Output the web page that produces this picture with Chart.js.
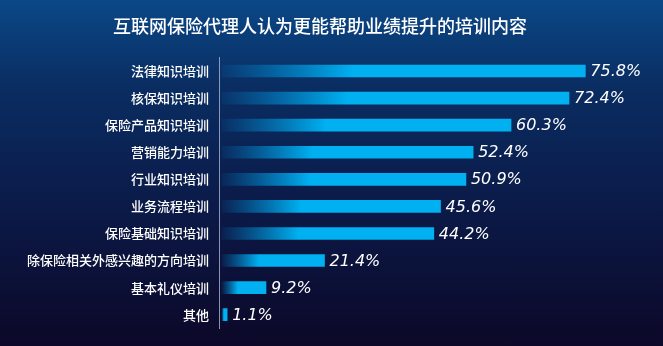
<!DOCTYPE html>
<html>
<head>
<meta charset="utf-8">
<script src="https://cdn.jsdelivr.net/npm/chart.js@4/dist/chart.umd.min.js"></script>
<style>
  html, body { margin: 0; padding: 0; }
  body {
    width: 663px; height: 346px; overflow: hidden;
    background: linear-gradient(to bottom, #0a4887 0%, #0a2d62 25%, #0b1a48 60%, #0c0828 100%);
  }
  #wrap { position: relative; width: 663px; height: 346px; }
</style>
</head>
<body>
<div id="wrap"><canvas id="chart"></canvas></div>
<script>
const chartTitle = '互联网保险代理人认为更能帮助业绩提升的培训内容';
const categories = ['法律知识培训', '核保知识培训', '保险产品知识培训', '营销能力培训', '行业知识培训',
    '业务流程培训', '保险基础知识培训', '除保险相关外感兴趣的方向培训', '基本礼仪培训', '其他'];
const values = [75.8, 72.4, 60.3, 52.4, 50.9, 45.6, 44.2, 21.4, 9.2, 1.1];
const valueLabels = values.map(v => v.toFixed(1) + '%');

// gradient fill: dark at the axis, full cyan after about a third of the bar
function barFill(context) {
    let chart = context.chart;
    if (!chart.chartArea) return '#00b0f0';
    let x = chart.scales.x;
    let x0 = x.getPixelForValue(0);
    let x1 = x.getPixelForValue(values[context.dataIndex]);
    let g = chart.ctx.createLinearGradient(x0, 0, x1, 0);
    g.addColorStop(0, 'rgba(0,150,225,0.08)');
    g.addColorStop(0.36, '#00b0f0');
    g.addColorStop(1, '#00b0f0');
    return g;
}

// title sits a little left of centre in the original, so draw it by hand
const titlePlugin = {
    id: 'leftTitle',
    afterDraw(chart) {
        let ctx = chart.ctx;
        ctx.save();
        ctx.font = '500 18px "Noto Sans CJK SC"';
        ctx.fillStyle = '#ffffff';
        ctx.textAlign = 'center';
        ctx.textBaseline = 'middle';
        ctx.fillText(chartTitle, 320, 26);
        ctx.restore();
    }
};

const valueLabelPlugin = {
    id: 'valueLabels',
    afterDatasetsDraw(chart) {
        let ctx = chart.ctx;
        let meta = chart.getDatasetMeta(0);
        ctx.save();
        ctx.font = 'italic 16px "DejaVu Sans"';
        ctx.fillStyle = '#ffffff';
        ctx.textBaseline = 'middle';
        ctx.textAlign = 'left';
        meta.data.forEach((bar, i) => {
            ctx.fillText(valueLabels[i], bar.x + 5, bar.y + 1);
        });
        ctx.restore();
    }
};

let ctx = document.getElementById('chart').getContext('2d');
window.myChart = new Chart(ctx, {
    type: 'bar',
    data: {
        labels: categories,
        datasets: [{
            data: values,
            backgroundColor: barFill,
            borderWidth: 0,
            barThickness: 12
        }]
    },
    options: {
        indexAxis: 'y',
        responsive: true,
        maintainAspectRatio: false,
        animation: false,
        layout: { padding: { top: 57.5, right: 0, bottom: 13, left: 0 } },
        scales: {
            x: {
                display: false,
                min: -0.6,
                max: 92
            },
            y: {
                afterFit: function (scale) { scale.width = 219; },
                grid: { display: true, drawOnChartArea: false, drawTicks: false },
                border: { display: true, color: 'rgba(170,180,205,0.8)', width: 1 },
                ticks: {
                    color: '#ffffff',
                    padding: 10,
                    font: { family: '"Noto Sans CJK SC"', size: 13, weight: '500' }
                }
            }
        },
        plugins: {
            legend: { display: false },
            tooltip: { enabled: false },
            title: { display: false }
        }
    },
    plugins: [valueLabelPlugin, titlePlugin]
});
</script>
</body>
</html>
